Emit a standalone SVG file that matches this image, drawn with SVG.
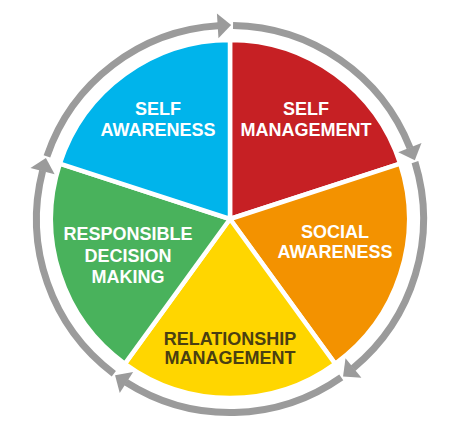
<svg xmlns="http://www.w3.org/2000/svg" width="456" height="423" viewBox="0 0 456 423">
  <defs>
    <style>
      .slice { stroke: #ffffff; stroke-width: 4.5; stroke-linejoin: round; }
      .ring { fill: none; stroke: #9b9b9b; stroke-width: 7; marker-end: url(#arrow); }
      .lbl { font-family: "Liberation Sans", Arial, sans-serif; font-weight: bold; font-size: 18px; text-anchor: middle; fill: #ffffff; }
      .dark { fill: #4a3f12; }
    </style>
    <marker id="arrow" markerUnits="userSpaceOnUse" markerWidth="16" markerHeight="28" refX="0.5" refY="12.5" orient="auto" overflow="visible">
      <path d="M0,0 L13.5,12.5 L0,25 Z" fill="#9b9b9b"/>
    </marker>
  </defs>
  <rect width="456" height="423" fill="#ffffff"/>
  <g id="slice-self-management">
    <path class="slice" fill="#c62024" d="M230,219 L230,40 A179,179 0 0 1 400.24,163.69 Z"/>
    <text class="lbl" x="306" y="115">SELF</text>
    <text class="lbl" x="306" y="136">MANAGEMENT</text>
  </g>
  <g id="slice-social-awareness">
    <path class="slice" fill="#f39200" d="M230,219 L400.24,163.69 A179,179 0 0 1 335.21,363.81 Z"/>
    <text class="lbl" x="335" y="238">SOCIAL</text>
    <text class="lbl" x="335" y="258">AWARENESS</text>
  </g>
  <g id="slice-relationship-management">
    <path class="slice" fill="#ffd600" d="M230,219 L335.21,363.81 A179,179 0 0 1 124.79,363.81 Z"/>
    <text class="lbl dark" x="230" y="345">RELATIONSHIP</text>
    <text class="lbl dark" x="230" y="364">MANAGEMENT</text>
  </g>
  <g id="slice-responsible-decision-making">
    <path class="slice" fill="#49b25c" d="M230,219 L124.79,363.81 A179,179 0 0 1 59.76,163.69 Z"/>
    <text class="lbl" x="128" y="240">RESPONSIBLE</text>
    <text class="lbl" x="128" y="261.5">DECISION</text>
    <text class="lbl" x="128" y="282.5">MAKING</text>
  </g>
  <g id="slice-self-awareness">
    <path class="slice" fill="#00b4eb" d="M230,219 L59.76,163.69 A179,179 0 0 1 230,40 Z"/>
    <text class="lbl" x="158" y="115">SELF</text>
    <text class="lbl" x="158" y="136">AWARENESS</text>
  </g>
  <g id="connectors">
    <path class="ring" d="M233.04,25.52 A193.5,193.5 0 0 1 410.04,148.08"/>
    <path class="ring" d="M414.95,162.10 A193.5,193.5 0 0 1 353.08,368.31"/>
    <path class="ring" d="M341.26,377.31 A193.5,193.5 0 0 1 126.03,382.20"/>
    <path class="ring" d="M113.82,373.74 A193.5,193.5 0 0 1 42.66,170.55"/>
    <path class="ring" d="M46.93,156.32 A193.5,193.5 0 0 1 218.19,25.86"/>
  </g>
</svg>
